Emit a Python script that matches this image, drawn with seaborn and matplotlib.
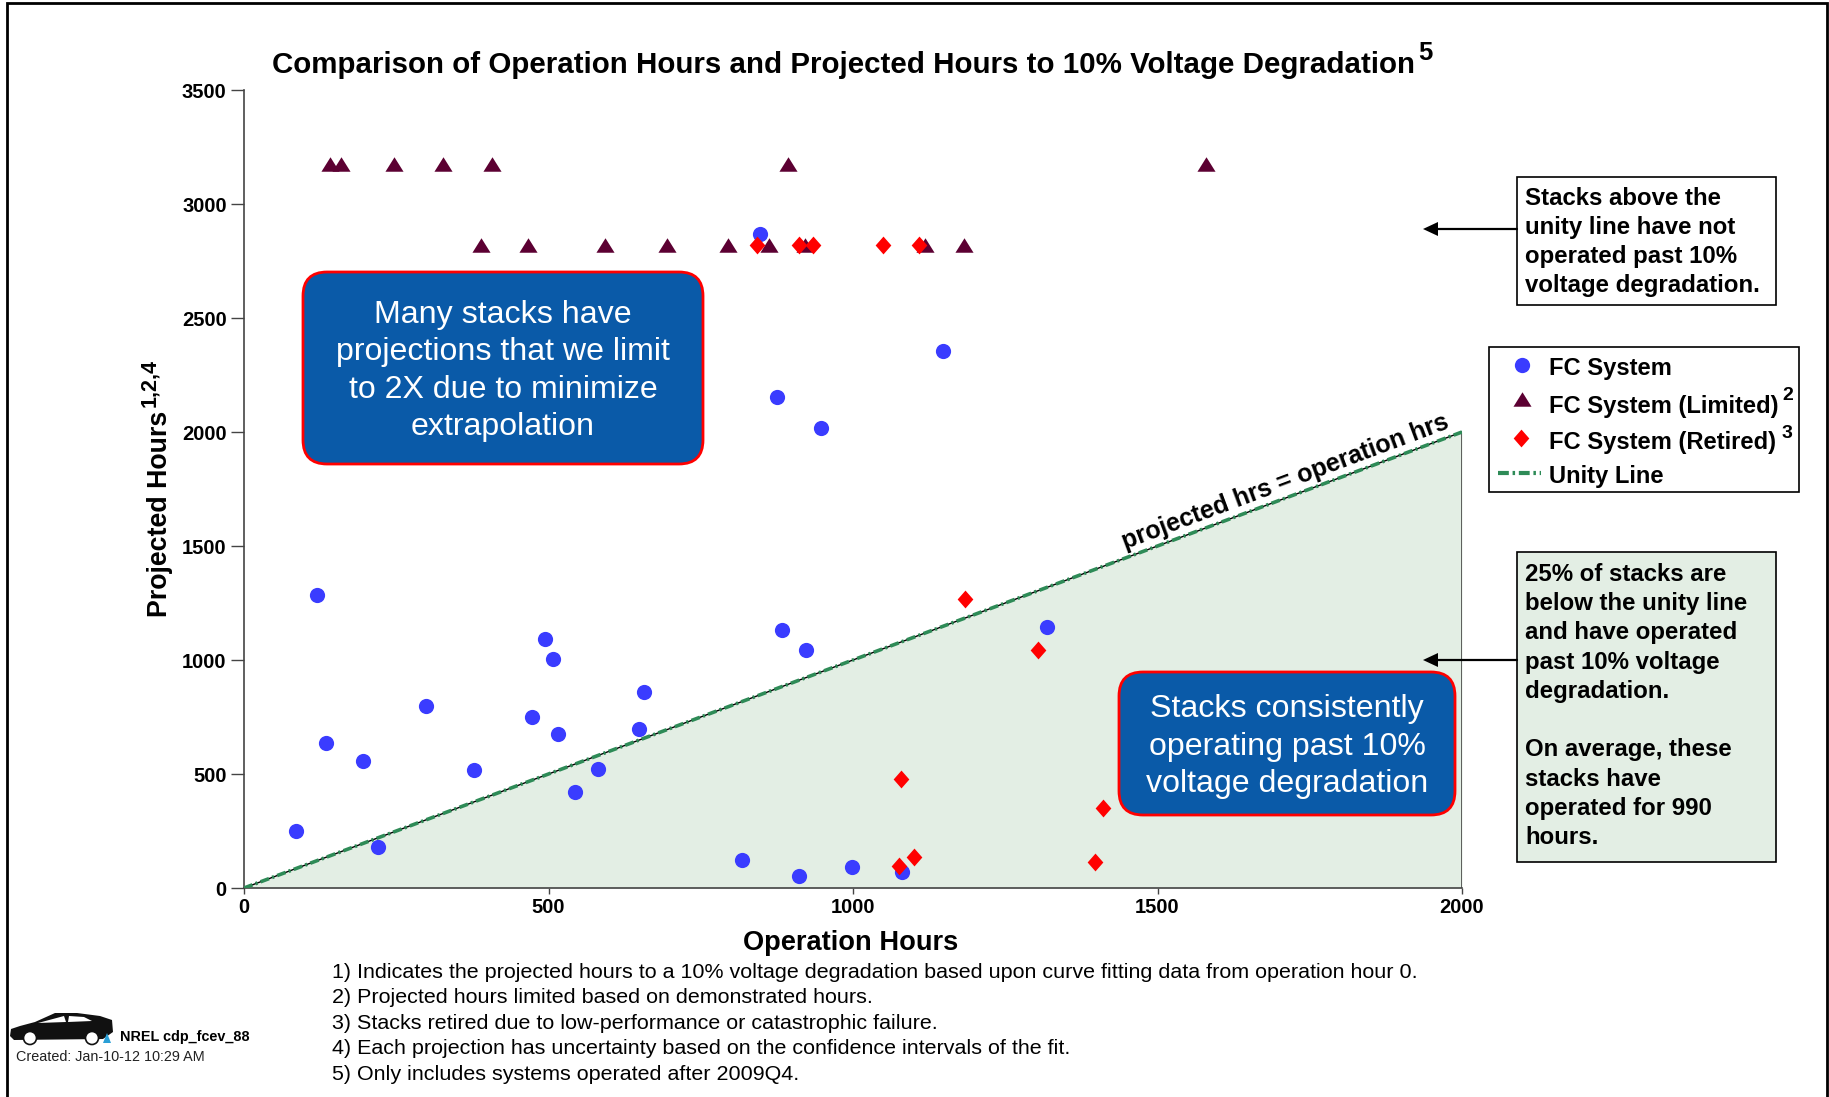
import matplotlib
matplotlib.use('Agg')
import numpy as np
import pandas as pd
import matplotlib.pyplot as plt
import seaborn as sns
from matplotlib.patches import FancyBboxPatch, Rectangle, Polygon, Circle

sns.set_style('ticks')
plt.rcParams['font.family'] = ['Liberation Sans', 'DejaVu Sans']
plt.rcParams['text.color'] = 'black'
plt.rcParams['xtick.labelcolor'] = 'black'
plt.rcParams['ytick.labelcolor'] = 'black'

W, H = 1829, 1097

sys_x = [86, 120, 134, 195, 220, 299, 377, 473, 494, 508, 515, 544, 582, 648, 657, 818, 847, 875, 883, 912, 923, 948, 998, 1080, 1147, 1318]
sys_y = [250, 1285, 635, 558, 179, 798, 517, 752, 1090, 1003, 675, 420, 522, 696, 860, 123, 2870, 2155, 1130, 51, 1044, 2016, 92, 72, 2354, 1146]
lim_x = [142, 159, 247, 326, 408, 893, 1580, 389, 467, 592, 695, 795, 862, 921, 1119, 1182]
lim_y = [3175, 3175, 3175, 3175, 3175, 3175, 3175, 2820, 2820, 2820, 2820, 2820, 2820, 2820, 2820, 2820]
ret_x = [843, 912, 935, 1050, 1109, 1184, 1303, 1078, 1410, 1100, 1075, 1398]
ret_y = [2820, 2820, 2820, 2820, 2820, 1269, 1044, 476, 353, 138, 97, 113]
unity_x = [0, 2000]
unity_y = [0, 2000]
x_ticks = [0, 500, 1000, 1500, 2000]
y_ticks = [0, 500, 1000, 1500, 2000, 2500, 3000, 3500]
notes = ['1) Indicates the projected hours to a 10% voltage degradation based upon curve fitting data from operation hour 0.',
         '2) Projected hours limited based on demonstrated hours.',
         '3) Stacks retired due to low-performance or catastrophic failure.',
         '4) Each projection has uncertainty based on the confidence intervals of the fit.',
         '5) Only includes systems operated after 2009Q4.']

GREEN = '#e3eee4'
LINE = '#2e8b57'
BLUE = '#3a3cff'
MAROON = '#5c0032'
RED = '#ff0000'
BOX = '#0a5aa8'
AXC = '#444444'
TRI = [(-1, -0.8), (1, -0.8), (0, 0.8)]
DIA = [(-0.88, 0), (0, 1), (0.88, 0), (0, -1)]
DASH = (0, (2.5, 0.9, 0.6, 0.9))


def fx(p):
    return p / W


def fy(p):
    return 1 - p / H


fig = plt.figure(figsize=(W / 100, H / 100), dpi=100)
ax = fig.add_axes([fx(244), fy(888), fx(1462) - fx(244), fy(90) - fy(888)])

# frame round the picture, runs off the bottom like the original
fig.add_artist(Rectangle((fx(7), fy(1110)), fx(1827) - fx(7), fy(3) - fy(1110), transform=fig.transFigure,
                         fill=False, ec='black', lw=2))

ax.fill_between(unity_x, unity_y, 0, color=GREEN, lw=0, zorder=1)
ax.plot(unity_x, unity_y, color='black', lw=1, zorder=2)
sns.lineplot(x=unity_x, y=unity_y, ax=ax, color=LINE, lw=2.6, zorder=3, legend=False, errorbar=None)
ax.lines[-1].set_linestyle(DASH)
ax.plot([2000, 2000], [0, 2000], color=AXC, lw=1.2, zorder=2)

sns.scatterplot(x=sys_x, y=sys_y, ax=ax, color=BLUE, marker='o', s=120, linewidth=0, zorder=5)
sns.scatterplot(x=lim_x, y=lim_y, ax=ax, color=MAROON, marker=TRI, s=170, linewidth=0, zorder=4)
sns.scatterplot(x=ret_x, y=ret_y, ax=ax, color=RED, marker=DIA, s=165, linewidth=0, zorder=6)

ax.set_xlim(0, 2000)
ax.set_ylim(0, 3500)
ax.set_xticks(x_ticks)
ax.set_yticks(y_ticks)
ax.tick_params(labelsize=14.5, length=9.5, width=1, color=AXC, pad=3)
ax.tick_params(axis='x', length=4)
for lab in ax.get_xticklabels() + ax.get_yticklabels():
    lab.set_fontweight('bold')
for s in ['top', 'right']:
    ax.spines[s].set_visible(False)
for s in ['left', 'bottom']:
    ax.spines[s].set_color(AXC)
    ax.spines[s].set_linewidth(1.2)

fig.text(fx(851), fy(943), 'Operation Hours', ha='center', va='center', fontsize=19.6, fontweight='bold')
fig.text(fx(167), fy(617), 'Projected Hours', rotation=90, ha='left', va='baseline', rotation_mode='anchor',
         fontsize=19.3, fontweight='bold')
fig.text(fx(155), fy(407), '1,2,4', rotation=90, ha='left', va='baseline', rotation_mode='anchor',
         fontsize=15.5, fontweight='bold')
fig.text(fx(272), fy(73), 'Comparison of Operation Hours and Projected Hours to 10% Voltage Degradation',
         ha='left', va='baseline', fontsize=21.25, fontweight='bold')
fig.text(fx(1418), fy(60), '5', ha='left', va='baseline', fontsize=18.5, fontweight='bold')

fig.text(fx(1285), fy(482), 'projected hrs = operation hrs', rotation=20.5, ha='center', va='center',
         fontsize=18, fontweight='bold', rotation_mode='anchor')


def rbox(x0, y0, x1, y1, txt):
    fig.add_artist(FancyBboxPatch((x0 + 24, H - y1 + 24), x1 - x0 - 48, y1 - y0 - 48,
                                  boxstyle='round,pad=24,rounding_size=24', transform=None,
                                  fc=BOX, ec=RED, lw=2))
    fig.text(fx((x0 + x1) / 2), fy((y0 + y1) / 2 + 3), txt, color='white', ha='center', va='center',
             fontsize=23.1, linespacing=1.32)


rbox(303, 272, 703, 464, 'Many stacks have\nprojections that we limit\nto 2X due to minimize\nextrapolation')
rbox(1119, 672, 1455, 815, 'Stacks consistently\noperating past 10%\nvoltage degradation')


def nbox(x0, y0, x1, y1, fc):
    fig.add_artist(Rectangle((fx(x0), fy(y1)), fx(x1) - fx(x0), fy(y0) - fy(y1), transform=fig.transFigure,
                             fc=fc, ec='black', lw=1.2))


nbox(1517, 177, 1776, 305, 'white')
fig.text(fx(1525), fy(242), 'Stacks above the\nunity line have not\noperated past 10%\nvoltage degradation.',
         ha='left', va='center', fontsize=17.3, fontweight='bold', linespacing=1.35)
nbox(1517, 552, 1776, 862, GREEN)
fig.text(fx(1525), fy(706), '25% of stacks are\nbelow the unity line\nand have operated\npast 10% voltage\ndegradation.\n\n'
         'On average, these\nstacks have\noperated for 990\nhours.',
         ha='left', va='center', fontsize=17.3, fontweight='bold', linespacing=1.35)

for yy in [229, 660]:
    fig.add_artist(plt.Line2D([fx(1435), fx(1517)], [fy(yy), fy(yy)], color='black', lw=1.6))
    fig.add_artist(Polygon([[fx(1423), fy(yy)], [fx(1438), fy(yy - 7)], [fx(1438), fy(yy + 7)]],
                           transform=fig.transFigure, fc='black', ec='none'))

# legend box
nbox(1489, 347, 1799, 492, 'white')
top = fig.add_axes([0, 0, 1, 1], facecolor='none', zorder=10)
top.set_xlim(0, W)
top.set_ylim(H, 0)
top.axis('off')
top.plot([1522], [365], 'o', color=BLUE, ms=11, mew=0)
top.plot([1522], [399], marker=TRI, color=MAROON, ms=13, mew=0)
top.plot([1521], [438], marker=DIA, color=RED, ms=12.8, mew=0)
top.plot([1498, 1541], [473, 473], color=LINE, lw=3, ls=(0, (2.6, 0.9, 0.6, 0.9)))
for yy, txt in [(375, 'FC System'), (413, 'FC System (Limited)'),
                (449, 'FC System (Retired)'), (483, 'Unity Line')]:
    top.text(1549, yy, txt, ha='left', va='baseline', fontsize=17.1, fontweight='bold')
top.text(1782, 400, '2', ha='left', va='baseline', fontsize=14, fontweight='bold')
top.text(1782, 438, '3', ha='left', va='baseline', fontsize=14, fontweight='bold')

# notes
for i, n in enumerate(notes):
    top.text(332, 972 + i * 25.6, n, ha='left', va='center', fontsize=15.45)

# car
car = [(10, 1036), (11, 1029), (20, 1026), (35, 1022), (55, 1013), (77, 1013), (100, 1016), (112, 1020),
       (113, 1032), (103, 1039), (14, 1040)]
top.add_patch(Polygon(car, fc='#111111', ec='none'))
top.add_patch(Polygon([(38, 1023), (64, 1016), (66, 1022)], fc='white', ec='none'))
top.add_patch(Polygon([(69, 1016), (84, 1017), (92, 1021), (68, 1022)], fc='white', ec='none'))
top.add_patch(Circle((30, 1038), 6.5, fc='white', ec='#111111', lw=1.2))
top.add_patch(Circle((92, 1038), 6.5, fc='white', ec='#111111', lw=1.2))
top.add_patch(Polygon([(107, 1033), (111, 1043), (103, 1043)], fc='#2a9fd6', ec='none'))
top.text(120, 1037, 'NREL cdp_fcev_88', ha='left', va='center', fontsize=10.4, fontweight='bold')
top.text(16, 1057, 'Created: Jan-10-12 10:29 AM', ha='left', va='center', fontsize=10.4, color='#222222')

fig.savefig('out.png', dpi=100, facecolor='white')
